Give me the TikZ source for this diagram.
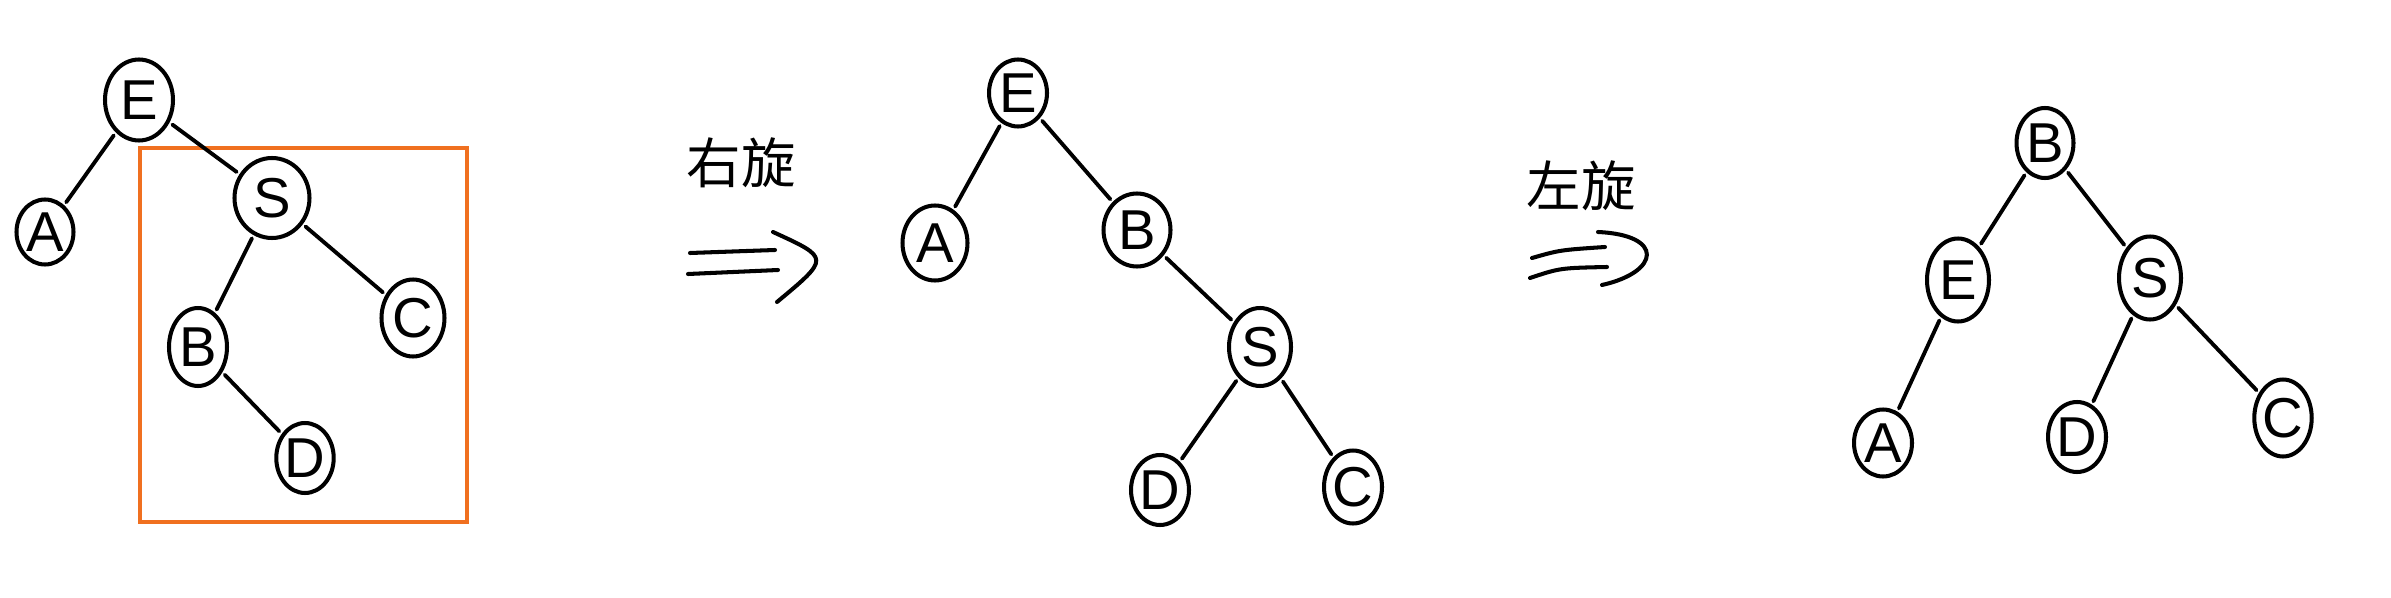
\documentclass[tikz,border=0pt]{standalone}
\usepackage{fontspec}
\setmainfont{Liberation Sans}
\newfontfamily\cjk{Noto Sans CJK SC}
\usetikzlibrary{shapes.geometric}
\tikzset{
  px/.style={x=0.02cm,y=-0.02cm},
  tnode/.style={draw=black, ellipse, line width=2.3pt, inner sep=0pt,
    minimum width=1.22cm, minimum height=1.48cm, font=\fontsize{32}{32}\selectfont},
  edge/.style={draw=black, line width=2.2pt, line cap=round, shorten <=2pt, shorten >=2pt},
  rot/.style={font=\cjk\fontsize{31}{31}\selectfont},
  arr/.style={draw=black, line width=2.3pt, line cap=round, line join=round},
}
\begin{document}
\begin{tikzpicture}[px]
\useasboundingbox (0,0) rectangle (2391,598);
% ---- tree 1
\draw[draw={rgb,255:red,240;green,112;blue,32}, line width=2.3pt] (140,148) rectangle (467,522);
\node[tnode, minimum width=1.36cm, minimum height=1.62cm] (e1) at (139,100) {E};
\node[tnode, minimum width=1.14cm, minimum height=1.3cm] (a1) at (45,232) {A};
\node[tnode, minimum width=1.5cm, minimum height=1.6cm] (s1) at (272,198) {S};
\node[tnode, minimum width=1.16cm, minimum height=1.56cm] (b1) at (198,347) {B};
\node[tnode, minimum width=1.26cm, minimum height=1.54cm] (c1) at (413,318) {C};
\node[tnode, minimum width=1.1cm, minimum height=1.4cm] (d1) at (305,458) {D};
\draw[edge] (e1) -- (a1);
\draw[edge] (e1) -- (s1);
\draw[edge] (s1) -- (b1);
\draw[edge] (s1) -- (c1);
\draw[edge] (b1) -- (d1);
% ---- first rotation
\node[rot] (r1) at (741,163) {右旋};
\draw[arr] (690,253) -- (775,250);
\draw[arr] (688,274) -- (778,270);
\draw[arr] (773,232) .. controls (830,258) .. (777,302);
% ---- tree 2
\node[tnode, minimum width=1.16cm, minimum height=1.34cm] (e2) at (1018,93) {E};
\node[tnode, minimum width=1.3cm, minimum height=1.5cm] (a2) at (935,243) {A};
\node[tnode, minimum width=1.34cm, minimum height=1.46cm] (b2) at (1137,230) {B};
\node[tnode, minimum width=1.24cm, minimum height=1.56cm] (s2) at (1260,347) {S};
\node[tnode, minimum width=1.16cm, minimum height=1.4cm] (d2) at (1160,490) {D};
\node[tnode, minimum width=1.16cm, minimum height=1.46cm] (c2) at (1353,487) {C};
\draw[edge] (e2) -- (a2);
\draw[edge] (e2) -- (b2);
\draw[edge] (b2) -- (s2);
\draw[edge] (s2) -- (d2);
\draw[edge] (s2) -- (c2);
% ---- second rotation
\node[rot] (r2) at (1581,186) {左旋};
\draw[arr] (1532,258) .. controls (1560,250) .. (1605,247);
\draw[arr] (1530,278) .. controls (1560,268) .. (1607,267);
\draw[arr] (1598,232) .. controls (1665,235) and (1660,272) .. (1602,285);
% ---- tree 3
\node[tnode, minimum width=1.14cm, minimum height=1.4cm] (b3) at (2045,143) {B};
\node[tnode, minimum width=1.24cm, minimum height=1.66cm] (e3) at (1958,280) {E};
\node[tnode, minimum width=1.24cm, minimum height=1.66cm] (s3) at (2150,278) {S};
\node[tnode, minimum width=1.16cm, minimum height=1.34cm] (a3) at (1883,443) {A};
\node[tnode, minimum width=1.16cm, minimum height=1.4cm] (d3) at (2077,437) {D};
\node[tnode, minimum width=1.1cm, minimum height=1.54cm] (c3) at (2283,418) {C};
\draw[edge] (b3) -- (e3);
\draw[edge] (b3) -- (s3);
\draw[edge] (e3) -- (a3);
\draw[edge] (s3) -- (d3);
\draw[edge] (s3) -- (c3);
\end{tikzpicture}
\end{document}
